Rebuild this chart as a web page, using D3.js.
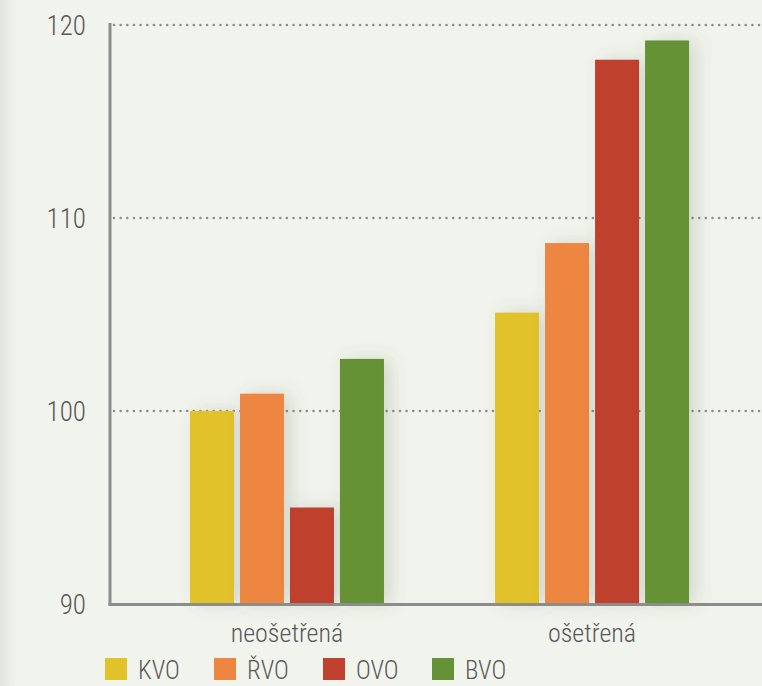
<!DOCTYPE html>
<html>
<head>
<meta charset="utf-8">
<script src="https://cdn.jsdelivr.net/npm/d3@7"></script>
<style>
  html, body { margin: 0; padding: 0; background: #f1f4ec; }
  svg { display: block; }
  text { font-family: 'Liberation Sans Narrow', 'Roboto Condensed', Roboto, sans-serif; fill: #585858; font-weight: 350; }
</style>
</head>
<body>
<svg id="chart"></svg>
<script>
const groups = ['neošetřená', 'ošetřená']
const seriesNames = ['KVO', 'ŘVO', 'OVO', 'BVO']
const kvo = [100.0, 105.1]
const rvo = [100.9, 108.7]
const ovo = [95.0, 118.2]
const bvo = [102.7, 119.2]
const yTicks = [90, 100, 110, 120]
const colors = ['#e2c229', '#ec8640', '#c0412d', '#659236']

const W = 762, H = 686
const margin = { top: 25, left: 110, right: -7, bottom: 82 }
const svg = d3.select('#chart').attr('width', W).attr('height', H)

const defs = svg.append('defs')
const sh = defs.append('filter').attr('id', 'shadow')
  .attr('x', '-60%').attr('y', '-20%').attr('width', '220%').attr('height', '140%')
sh.append('feDropShadow')
  .attr('dx', 7).attr('dy', 0).attr('stdDeviation', 9)
  .attr('flood-color', '#5a6150').attr('flood-opacity', 0.2)

const lg = defs.append('linearGradient').attr('id', 'edge')
lg.append('stop').attr('offset', 0).attr('stop-color', '#e2e5dd')
lg.append('stop').attr('offset', 1).attr('stop-color', '#f1f4ec')

svg.append('rect').attr('width', W).attr('height', H).attr('fill', '#f1f4ec')
svg.append('rect').attr('width', 16).attr('height', H).attr('fill', 'url(#edge)')

const y = d3.scaleLinear().domain([90, 120]).range([H - margin.bottom, margin.top])
const x0 = d3.scaleBand().domain(groups)
  .range([margin.left, W - margin.right]).paddingInner(0).paddingOuter(0.08)
const x1 = d3.scaleBand().domain(seriesNames).range([-97, 97]).paddingInner(0.12)

const table = groups.map((g, i) => ({
  group: g,
  values: [kvo[i], rvo[i], ovo[i], bvo[i]].map((v, j) => ({ name: seriesNames[j], value: v }))
}))

// dotted grid
svg.append('g')
  .selectAll('line')
  .data(yTicks.filter(t => t > 90))
  .enter()
  .append('line')
  .attr('x1', margin.left + 4)
  .attr('x2', W)
  .attr('y1', d => y(d))
  .attr('y2', d => y(d))
  .attr('stroke', '#8c8c8a')
  .attr('stroke-width', 2.6)
  .attr('stroke-linecap', 'round')
  .attr('stroke-dasharray', '0 6.65')

// bars
svg.append('g')
  .selectAll('g')
  .data(table)
  .enter()
  .append('g')
  .attr('transform', d => 'translate(' + (x0(d.group) + x0.bandwidth() / 2) + ',0)')
  .selectAll('rect')
  .data(d => d.values)
  .enter()
  .append('rect')
  .attr('x', d => x1(d.name))
  .attr('width', x1.bandwidth())
  .attr('y', d => y(d.value))
  .attr('height', d => y(90) - y(d.value))
  .attr('fill', (d, i) => colors[i])
  .attr('filter', 'url(#shadow)')

// axes
const yAxis = svg.append('g')
  .attr('transform', 'translate(' + margin.left + ',0)')
  .call(d3.axisLeft(y).tickValues(yTicks).tickSize(0).tickPadding(24))
yAxis.select('.domain').attr('stroke', '#8c8c8a').attr('stroke-width', 3)
  .attr('d', 'M0,' + (margin.top - 2) + 'V' + (y(90) + 1))
yAxis.selectAll('text').attr('font-size', 27).attr('dy', '0.36em')

const xAxis = svg.append('g')
  .attr('transform', 'translate(0,' + (y(90) + 0.5) + ')')
  .call(d3.axisBottom(x0).tickSize(0).tickPadding(19))
xAxis.select('.domain').attr('stroke', '#8c8c8a').attr('stroke-width', 3)
  .attr('d', 'M' + (margin.left - 1.5) + ',0H' + W)
xAxis.selectAll('text').attr('font-size', 26)

svg.selectAll('.tick text').attr('font-family', null).attr('fill', '#585858')

// legend
const legend = svg.append('g')
  .selectAll('g')
  .data(seriesNames)
  .enter()
  .append('g')
  .attr('transform', (d, i) => 'translate(' + (105 + i * 109) + ',658)')
legend.append('rect').attr('width', 22).attr('height', 22)
  .attr('fill', (d, i) => colors[i])
legend.append('text').text(d => d)
  .attr('x', 33).attr('y', 21)
  .attr('font-size', 25)
</script>
</body>
</html>
